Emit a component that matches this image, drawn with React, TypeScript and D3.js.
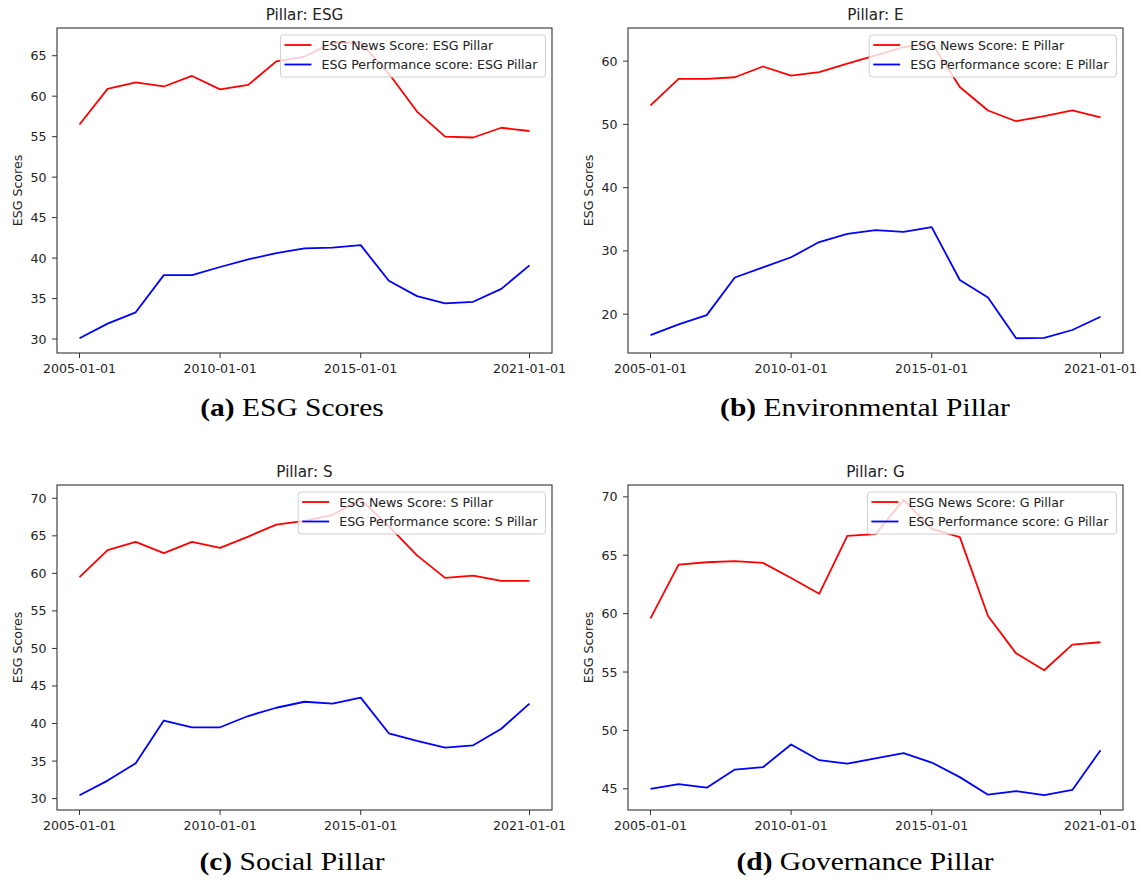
import React, { useEffect, useRef } from 'react';
import * as d3 from 'd3';

// yearly observations
const dates = [
  '2005-01-01', '2006-01-01', '2007-01-01', '2008-01-01', '2009-01-01', '2010-01-01',
  '2011-01-01', '2012-01-01', '2013-01-01', '2014-01-01', '2015-01-01', '2016-01-01',
  '2017-01-01', '2018-01-01', '2019-01-01', '2020-01-01', '2021-01-01',
];
const xTickLabels = ['2005-01-01', '2010-01-01', '2015-01-01', '2021-01-01'];

const esgNews = [56.5, 60.9, 61.7, 61.2, 62.5, 60.85, 61.4, 64.3, 64.9, 66.6, 66.6, 62.8, 58.1, 55.0, 54.9, 56.1, 55.7];
const esgPerf = [30.1, 31.9, 33.3, 37.9, 37.9, 38.9, 39.85, 40.6, 41.2, 41.3, 41.6, 37.2, 35.3, 34.4, 34.6, 36.2, 39.1];
const esgTicks = [30, 35, 40, 45, 50, 55, 60, 65];

const eNews = [53.0, 57.2, 57.2, 57.45, 59.15, 57.7, 58.25, 59.6, 60.9, 62.2, 62.9, 55.9, 52.2, 50.5, 51.3, 52.2, 51.1];
const ePerf = [16.7, 18.4, 19.85, 25.8, 27.4, 29.0, 31.4, 32.7, 33.3, 33.0, 33.75, 25.4, 22.65, 16.2, 16.25, 17.5, 19.6];
const eTicks = [20, 30, 40, 50, 60];

const sNews = [59.5, 63.1, 64.2, 62.7, 64.2, 63.4, 64.9, 66.5, 67.0, 67.8, 69.8, 66.3, 62.4, 59.4, 59.7, 59.0, 59.0];
const sPerf = [30.45, 32.4, 34.7, 40.4, 39.5, 39.5, 41.0, 42.1, 42.9, 42.65, 43.45, 38.7, 37.7, 36.8, 37.1, 39.3, 42.65];
const sTicks = [30, 35, 40, 45, 50, 55, 60, 65, 70];

const gNews = [59.6, 64.2, 64.4, 64.5, 64.35, 63.05, 61.7, 66.65, 66.8, 69.75, 67.25, 66.55, 59.8, 56.6, 55.15, 57.35, 57.55];
const gPerf = [45.0, 45.4, 45.1, 46.65, 46.85, 48.8, 47.45, 47.15, 47.6, 48.05, 47.25, 46.0, 44.5, 44.8, 44.45, 44.9, 48.3];
const gTicks = [45, 50, 55, 60, 65, 70];

const pillars = ['ESG', 'E', 'S', 'G'];
const captionTags = ['(a)', '(b)', '(c)', '(d)'];
const captionTexts = ['ESG Scores', 'Environmental Pillar', 'Social Pillar', 'Governance Pillar'];

const App = () => {
  const ref = useRef<SVGSVGElement | null>(null);

  useEffect(() => {
    document.body.style.margin = '0';
    const svg = d3.select(ref.current);
    svg.selectAll('*').remove();

    const font = 'DejaVu Sans, sans-serif';
    const fs = 12.6;
    const axW = 495;
    const axH = 325;
    const origins = [[57, 28], [628, 28], [57, 485], [628, 485]];
    const captionX = [292, 865, 292, 865];
    const captionY = [416, 416, 870, 870];

    const panels = [
      { news: esgNews, perf: esgPerf, ticks: esgTicks },
      { news: eNews, perf: ePerf, ticks: eTicks },
      { news: sNews, perf: sPerf, ticks: sTicks },
      { news: gNews, perf: gPerf, ticks: gTicks },
    ];

    const parse = d3.timeParse('%Y-%m-%d');
    const times = dates.map(d => parse(d) as Date);

    panels.forEach((p, i) => {
      const [ox, oy] = origins[i];
      const g = svg.append('g');

      // matplotlib-style 5% margins
      const t0 = +times[0];
      const t1 = +times[times.length - 1];
      const tp = (t1 - t0) * 0.05;
      const x = d3.scaleTime().domain([new Date(t0 - tp), new Date(t1 + tp)]).range([ox, ox + axW]);
      const all = p.news.concat(p.perf);
      const lo = d3.min(all) as number;
      const hi = d3.max(all) as number;
      const vp = (hi - lo) * 0.05;
      const y = d3.scaleLinear().domain([lo - vp, hi + vp]).range([oy + axH, oy]);

      const line = d3.line<number>()
        .x((_, j) => x(times[j]))
        .y(d => y(d));

      g.append('path')
        .datum(p.news)
        .attr('fill', 'none')
        .attr('stroke', '#ff0000')
        .attr('stroke-width', 1.8)
        .attr('stroke-linejoin', 'round')
        .attr('d', line);

      g.append('path')
        .datum(p.perf)
        .attr('fill', 'none')
        .attr('stroke', '#0000ff')
        .attr('stroke-width', 1.8)
        .attr('stroke-linejoin', 'round')
        .attr('d', line);

      // spines
      g.append('rect')
        .attr('x', ox)
        .attr('y', oy)
        .attr('width', axW)
        .attr('height', axH)
        .attr('fill', 'none')
        .attr('stroke', '#333')
        .attr('stroke-width', 1.1);

      // x ticks
      xTickLabels.forEach(t => {
        const px = x(parse(t) as Date);
        g.append('line')
          .attr('x1', px).attr('x2', px)
          .attr('y1', oy + axH).attr('y2', oy + axH + 5)
          .attr('stroke', '#333');
        g.append('text')
          .attr('x', px)
          .attr('y', oy + axH + 19.5)
          .attr('text-anchor', 'middle')
          .style('font-family', font)
          .style('font-size', fs + 'px')
          .attr('fill', '#222')
          .text(t);
      });

      // y ticks
      p.ticks.forEach(t => {
        const py = y(t);
        g.append('line')
          .attr('x1', ox - 5).attr('x2', ox)
          .attr('y1', py).attr('y2', py)
          .attr('stroke', '#333');
        g.append('text')
          .attr('x', ox - 10.5)
          .attr('y', py + 4.5)
          .attr('text-anchor', 'end')
          .style('font-family', font)
          .style('font-size', fs + 'px')
          .attr('fill', '#222')
          .text(t);
      });

      // y label
      g.append('text')
        .attr('transform', `translate(${ox - 35.5},${oy + axH / 2}) rotate(-90)`)
        .attr('text-anchor', 'middle')
        .style('font-family', font)
        .style('font-size', fs + 'px')
        .attr('fill', '#222')
        .text('ESG Scores');

      // title
      g.append('text')
        .attr('x', ox + axW / 2)
        .attr('y', oy - 8.5)
        .attr('text-anchor', 'middle')
        .style('font-family', font)
        .style('font-size', '15.2px')
        .attr('fill', '#222')
        .text(`Pillar: ${pillars[i]}`);

      // legend
      const labels = [`ESG News Score: ${pillars[i]} Pillar`, `ESG Performance score: ${pillars[i]} Pillar`];
      const colors = ['#ff0000', '#0000ff'];
      const leg = g.append('g');
      const box = leg.append('rect');
      const texts = labels.map(l =>
        leg.append('text')
          .style('font-family', font)
          .style('font-size', fs + 'px')
          .attr('fill', '#222')
          .text(l)
      );
      const maxW = d3.max(texts, t => (t.node() as SVGTextElement).getComputedTextLength()) as number;
      const bw = 41 + maxW + 8;
      const bx = ox + axW - 6.5 - bw;
      const by = oy + 7;
      box.attr('x', bx).attr('y', by)
        .attr('width', bw).attr('height', 42)
        .attr('rx', 3)
        .attr('fill', 'white')
        .attr('fill-opacity', 0.8)
        .attr('stroke', '#d0d0d0')
        .attr('stroke-width', 1);
      texts.forEach((t, j) => {
        const cy = by + 10 + j * 19.5;
        leg.append('line')
          .attr('x1', bx + 4).attr('x2', bx + 31)
          .attr('y1', cy).attr('y2', cy)
          .attr('stroke', colors[j])
          .attr('stroke-width', 1.8);
        t.attr('x', bx + 41).attr('y', cy + 4.5);
      });

      // caption
      const cap = svg.append('text')
        .attr('transform', `translate(${captionX[i]},${captionY[i]}) scale(1.18,1)`)
        .attr('text-anchor', 'middle')
        .style('font-family', 'Liberation Serif, serif')
        .style('font-size', '25px')
        .attr('fill', '#000');
      cap.append('tspan').style('font-weight', 'bold').text(captionTags[i]);
      cap.append('tspan').text(' ' + captionTexts[i]);
    });
  }, []);

  return <svg ref={ref} width={1141} height={884} style={{ display: 'block', background: 'white' }} />;
};

export default App;
